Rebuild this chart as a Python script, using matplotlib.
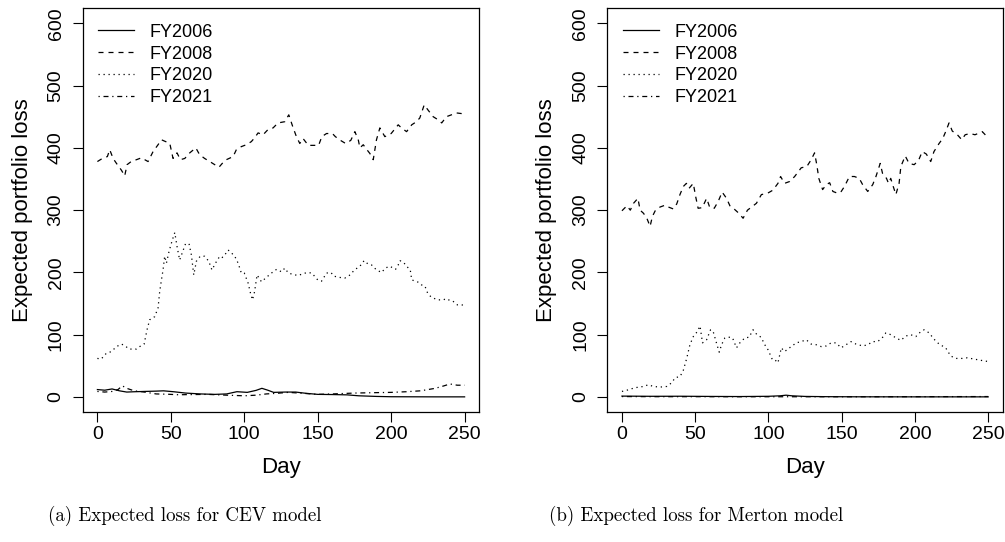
import numpy as np
import matplotlib
matplotlib.use("Agg")
from matplotlib import pyplot as plt

plt.rcParams['font.family'] = ['Liberation Sans', 'DejaVu Sans']

#%% CEV model (left panel)
cev_2008_day = [0, 3.4, 6.8, 8.4, 10.7, 13, 16.4, 18.6, 20.2, 23, 26.6, 30, 34.5, 37.9, 41.3, 43.6, 46.5,
                49.3, 51.5, 54.2, 56.5, 59.5, 62.9, 67, 69.6, 73, 76.5, 79.9, 82.8, 85, 87.8, 92.4, 94.6,
                98, 101.4, 104.8, 107, 109.4, 112.8, 116, 119.6, 123, 127.6, 130.3, 133, 135.5, 137.8,
                140, 143.6, 148, 150.6, 152.8, 156, 160, 162, 165.5, 169, 172.5, 175.3, 177.7, 178.7,
                181, 183.5, 185.5, 187.8, 190, 192.3, 195.7, 200, 204.8, 207, 210.5, 214, 217.2, 219.5,
                222.5, 225, 228.6, 232, 234.4, 237.6, 241, 244.6, 248, 250]
cev_2008 = [378, 383, 386, 397, 383, 375, 364, 355, 373, 378, 381, 384, 378, 394, 405, 413, 410,
            407, 383, 392, 381, 383, 392, 400, 389, 383, 378, 373, 369, 375, 381, 386, 397,
            402, 405, 410, 416, 424, 421, 429, 432, 440, 442, 453, 434, 418, 407,
            415, 404, 404, 404, 418, 423, 423, 418, 412, 407, 412, 426, 412, 400,
            405, 397, 391, 381, 413, 432, 418, 423, 437, 432, 426, 437, 442, 448,
            469, 461, 450, 445, 440, 450, 453, 456, 455, 454]

cev_2020_day = [0, 2.6, 6, 9.5, 13, 16.4, 19, 21.5, 26.5, 28.8, 31.8, 33.8, 35.6, 39, 41.3, 42.4, 43.6,
                44.7, 45.8, 47, 48.8, 51, 52.7, 54.2, 56, 57.7, 60, 62.4, 64, 65.6, 67.4, 70, 73,
                75.8, 78, 80.4, 83.3, 85, 86.7, 89, 91, 93.5, 95.8, 98, 100, 102.6, 104.2, 105.6,
                107, 108.7, 111.7, 115, 118.5, 122, 125.4, 127.6, 130, 133, 136.6, 140, 143, 146,
                150, 152.6, 156, 159, 161, 165, 168.5, 172, 175, 178.7, 181.6, 184, 186.7, 190,
                193.5, 196, 199, 203, 204.8, 206, 208.5, 210.5, 213, 214, 216.6, 218.8, 220.7, 223,
                224.8, 227, 229.6, 232, 235.5, 237.5, 240, 242, 245, 248, 250]
cev_2020 = [62, 61, 70, 73, 81, 85, 82, 77, 77, 81, 85, 108, 124, 129, 143, 169, 188,
            204, 226, 215, 234, 252, 264, 242, 220, 231, 246, 246, 228, 196, 218, 226, 226,
            218, 204, 215, 226, 224, 228, 236, 232, 226, 215, 199, 199, 183, 167, 156,
            169, 196, 185, 192, 199, 205, 201, 207, 199, 197, 195, 198, 200, 199,
            188, 186, 199, 200, 194, 192, 191, 196, 204, 210, 219, 214, 212, 204,
            200, 207, 210, 205, 212, 219, 216, 210, 204, 188, 186, 184, 180, 178,
            167, 161, 158, 156, 156, 158, 155, 154, 148, 148, 147]

cev_2006_day = [0, 5, 10, 15, 20, 25, 32, 40, 45, 52, 60, 70, 80, 88, 95, 102, 108, 112, 116, 120,
                128, 135, 142, 150, 160, 170, 178, 190, 200, 215, 230, 250]
cev_2006 = [12, 11, 13, 10, 8, 8.5, 9, 9.5, 10, 8.5, 6.4, 5, 4.3, 5, 8.6, 7.5, 10.7, 14, 11, 7.5,
            8, 8, 6, 4.3, 4, 3.5, 2, 1, 0.5, 0.4, 0.3, 0.3]

cev_2021_day = [0, 5, 10, 14, 17, 20, 25, 32, 40, 48, 55, 65, 75, 88, 100, 108, 115, 122, 130, 140,
                150, 160, 175, 188, 200, 210, 220, 230, 236, 240, 245, 250]
cev_2021 = [9, 8, 9, 12, 18, 14, 10, 8, 5, 4.5, 3.7, 4, 4.3, 3, 2, 3, 5, 6, 7.5, 6,
            4.3, 5, 6.4, 7, 7.5, 8.5, 10, 14, 18, 21, 19, 19]

#%% Merton model (right panel)
mer_2008_day = [0, 3.4, 5.7, 7.9, 10.9, 12.4, 14.7, 17, 19.2, 20.8, 22.7, 26, 29.5, 31.7, 35, 37.4,
                39.6, 41.9, 44, 45.8, 48.7, 50.3, 52, 54.8, 57.8, 60, 63, 65.7, 68.4, 71.4, 73.7,
                77, 79.8, 82.7, 85.7, 88.5, 91.8, 95.2, 99.3, 103, 106.5, 108.3, 111, 114.5, 117.9,
                122.4, 126.2, 129.2, 131.5, 133, 134.4, 137, 139.5, 141.8, 144, 147.4, 149.7, 151.9,
                155.3, 158.7, 162, 164.3, 167.8, 171.2, 173.4, 176.3, 177.9, 180.6, 182, 183.5,
                185.2, 187, 189.2, 190.4, 193.4, 196, 199.5, 202.5, 205, 207.8, 210.8, 213, 216.5,
                219, 221, 223.3, 225.5, 229, 232, 234.3, 237.7, 241, 246, 250]
mer_2008 = [299, 307, 300, 311, 319, 300, 295, 287, 274, 290, 299, 305, 308, 305, 302, 310,
            325, 338, 343, 335, 343, 322, 303, 304, 319, 304, 303, 314, 329, 319, 307,
            301, 295, 287, 300, 305, 311, 325, 327, 332, 343, 354, 343, 346, 354,
            368, 370, 381, 392, 373, 351, 333, 341, 344, 330, 327, 330, 338,
            354, 354, 351, 341, 330, 341, 354, 375, 359, 351, 343, 351,
            338, 325, 343, 370, 387, 375, 373, 380, 394, 390, 378, 394, 407,
            415, 426, 440, 427, 421, 413, 421, 423, 421, 426, 416]

mer_2020_day = [0, 3.4, 9, 14.7, 18, 21.5, 26, 30.6, 34, 36.3, 39.7, 41.9, 44.2, 46.4, 48.7, 51.4,
                53.3, 55, 57.8, 60.5, 62.3, 64.5, 66.4, 68, 70.3, 73.3, 75.5, 78.2, 80.5, 83.9,
                86.8, 89.5, 92.2, 95, 97.5, 99.7, 102.7, 104.3, 106.5, 108.8, 111, 114.4, 119,
                122.4, 125.8, 129.2, 132.6, 136, 139.4, 142.8, 146.2, 149.6, 153, 156.4, 159.8,
                164.4, 167.8, 171.2, 174.6, 178, 180.2, 183.7, 187, 190.4, 193.8, 197.2, 200.6,
                204, 206.3, 209.7, 213, 216.5, 221, 224.4, 227.8, 232.4, 235.8, 240.3, 244.9, 250]
mer_2020 = [9, 11, 15, 17, 19.7, 17, 16, 17, 23, 31, 33, 43, 62, 84, 97, 105,
            114, 87, 92, 108, 105, 87, 72, 84, 95, 96, 95, 79, 87, 95,
            96, 108, 100, 96, 84, 76, 60, 60, 55, 79, 73, 79, 87,
            89, 92, 85, 84, 81, 82, 87, 87, 79, 84, 89, 85,
            82, 84, 89, 89, 96, 103, 100, 95, 91, 98, 100, 97,
            105, 108, 103, 93, 85, 79, 66, 62, 62, 63, 61, 59, 57]

mer_2006_day = [0, 20, 40, 60, 80, 100, 108, 112, 116, 125, 140, 160, 200, 250]
mer_2006 = [1.5, 1.2, 1.3, 1, 0.8, 1.2, 2, 3, 2, 1, 0.6, 0.4, 0.3, 0.3]

mer_2021_day = [0, 25, 50, 75, 100, 125, 150, 175, 200, 225, 250]
mer_2021 = [0.8, 0.6, 0.6, 0.5, 0.5, 0.5, 0.5, 0.5, 0.6, 0.7, 0.8]

legend_labels = ["FY2006", "FY2008", "FY2020", "FY2021"]
captions = ["(a) Expected loss for CEV model", "(b) Expected loss for Merton model"]
yticks = [0, 100, 200, 300, 400, 500, 600]
xticks = [0, 50, 100, 150, 200, 250]

styles = ['-', (0, (4, 4)), (0, (1, 3)), (0, (1, 3, 4, 3))]

#%%
fig = plt.figure(figsize=(10.05, 5.42), dpi=100)
W, H = 1005, 542
ax_l = fig.add_axes([82.7 / W, 1 - 412 / H, 396.6 / W, 403.7 / H])
ax_r = fig.add_axes([607.3 / W, 1 - 412 / H, 395.5 / W, 403.7 / H])

panels = [
    (ax_l, [(cev_2006_day, cev_2006), (cev_2008_day, cev_2008), (cev_2020_day, cev_2020), (cev_2021_day, cev_2021)]),
    (ax_r, [(mer_2006_day, mer_2006), (mer_2008_day, mer_2008), (mer_2020_day, mer_2020), (mer_2021_day, mer_2021)]),
]

for ax, series in panels:
    for (d, v), ls, lab in zip(series, styles, legend_labels):
        ax.plot(d, v, color='black', linestyle=ls, linewidth=0.9, label=lab)
    ax.set_xlim(-10, 260)
    ax.set_ylim(-24, 624)
    ax.set_xticks(xticks)
    ax.set_yticks(yticks)
    ax.tick_params(direction='out', length=7, width=0.8, labelsize=14, colors='black')
    ax.tick_params(axis='y', labelrotation=90, pad=6)
    ax.tick_params(axis='x', pad=3)
    for lbl in ax.get_yticklabels():
        lbl.set_verticalalignment('center')
    for s in ax.spines.values():
        s.set_linewidth(0.9)
    ax.set_xlabel("Day", fontsize=16)
    ax.set_ylabel("Expected portfolio loss", fontsize=16)
    ax.xaxis.set_label_coords(0.5, -(468 - 412) / 403.7)
    ax.xaxis.label.set_va('center')
    ax.yaxis.set_label_coords((22 - 82.7) / 396.6, 0.5)
    ax.yaxis.label.set_va('center')
    ax.legend(loc='upper left', frameon=False, fontsize=13, handlelength=2.0,
              handletextpad=0.85, labelspacing=0.27, borderaxespad=0.45)

fig.text(185 / W, 1 - 516 / H, captions[0], family='cmr10', fontsize=13.6, ha='center', va='center')
fig.text(696 / W, 1 - 516 / H, captions[1], family='cmr10', fontsize=13.6, ha='center', va='center')

fig.savefig("out.png", dpi=100)
